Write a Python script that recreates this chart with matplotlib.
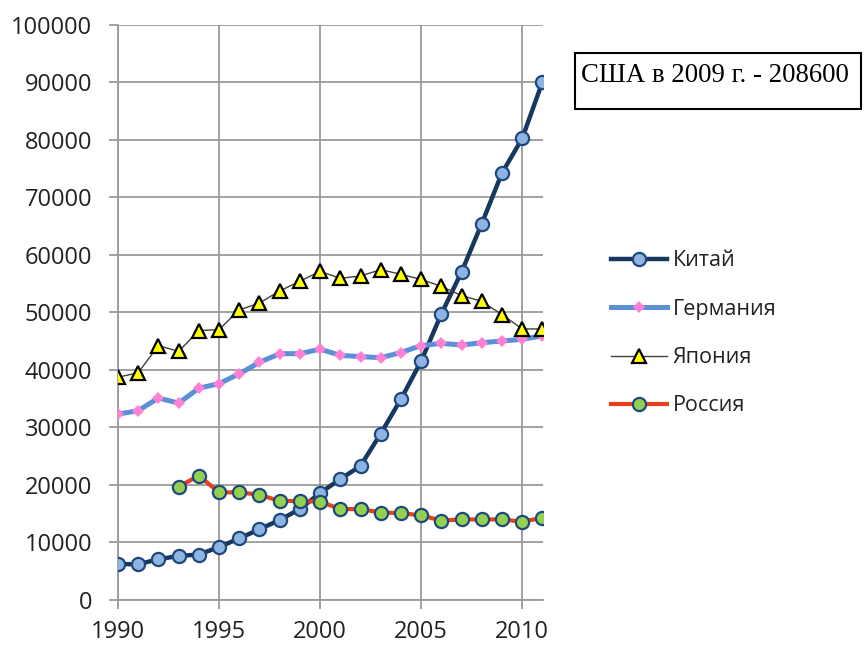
import matplotlib
matplotlib.use("Agg")
import matplotlib.pyplot as plt
from matplotlib.patches import Rectangle

years = list(range(1990, 2012))
china = [6250, 6200, 7100, 7650, 7900, 9200, 10700, 12300, 13900, 15800,
         18600, 21000, 23300, 28900, 34900, 41500, 49700, 57000, 65400, 74200, 80200, 90000]
germany = [32300, 32900, 35100, 34200, 36800, 37600, 39300, 41300, 42800, 42800,
           43600, 42500, 42300, 42100, 43000, 44200, 44600, 44300, 44700, 45000, 45300, 45900]
japan = [38700, 39500, 44200, 43200, 46800, 47000, 50400, 51600, 53700, 55400,
         57100, 55900, 56300, 57400, 56600, 55700, 54500, 52900, 51900, 49600, 47100, 47100]
russia_years = list(range(1993, 2012))
russia = [19700, 21600, 18700, 18700, 18300, 17200, 17200, 17100, 15800, 15800,
          15200, 15100, 14700, 13800, 14000, 14000, 14000, 13600, 14300]

series_names = ["Китай", "Германия", "Япония", "Россия"]
x_ticks = [1990, 1995, 2000, 2005, 2010]
y_ticks = list(range(0, 100001, 10000))
note_text = "США в 2009 г. - 208600"

W, H = 866, 646
fig = plt.figure(figsize=(W / 100, H / 100), dpi=100)
ax = fig.add_axes([118 / W, (H - 600) / H, (543 - 118) / W, (600 - 24.5) / H])

grid_col = "#9a9a9a"
ax.plot(years, china, color="#17375E", lw=3.2, marker="o", ms=9.5,
        mfc="#8DB4E2", mec="#1F497D", mew=1.6, label=series_names[0], zorder=3)
ax.plot(years, germany, color="#5B8FD6", lw=3.6, marker="D", ms=6.5,
        mfc="#FF80D5", mec="#FF80D5", mew=0, label=series_names[1], zorder=4)
ax.plot(years, japan, color="#404040", lw=1.0, marker="^", ms=10,
        mfc="#FFFF00", mec="#000000", mew=1.6, label=series_names[2], zorder=5)
ax.plot(russia_years, russia, color="#E8401C", lw=3.0, marker="o", ms=9.5,
        mfc="#92D050", mec="#1F497D", mew=1.6, label=series_names[3], zorder=6)

ax.set_xlim(1990, 2011.03)
ax.set_ylim(0, 100000)
ax.set_xticks(x_ticks)
ax.set_yticks(y_ticks)
ax.grid(True, color=grid_col, lw=1.3)
ax.set_axisbelow(True)
for s in ["top", "right"]:
    ax.spines[s].set_visible(False)
for s in ["left", "bottom"]:
    ax.spines[s].set_color(grid_col)
    ax.spines[s].set_linewidth(1.3)
ax.tick_params(axis="both", direction="out", length=6.5, width=1.3, color=grid_col,
               labelsize=17, labelcolor="#222222")
ax.tick_params(axis="y", pad=12)
ax.tick_params(axis="x", pad=8)
for lab in ax.get_xticklabels() + ax.get_yticklabels():
    lab.set_fontfamily("Open Sans")

leg = fig.legend(loc="upper left", bbox_to_anchor=(592 / W, (H - 231) / H),
                 frameon=False, handlelength=2.6, handletextpad=0.25,
                 labelspacing=1.27, prop={"family": "Open Sans", "size": 15.5})
for t in leg.get_texts():
    t.set_color("#222222")

fig.patches.append(Rectangle((575 / W, (H - 109) / H), (861 - 575) / W, (109 - 52.7) / H,
                             transform=fig.transFigure, fill=False, ec="black", lw=1.5))
fig.text(581 / W, (H - 81.7) / H, note_text, fontfamily="Liberation Serif",
         fontsize=19.3, va="baseline", ha="left", color="black")

fig.savefig("out.png", dpi=100)
